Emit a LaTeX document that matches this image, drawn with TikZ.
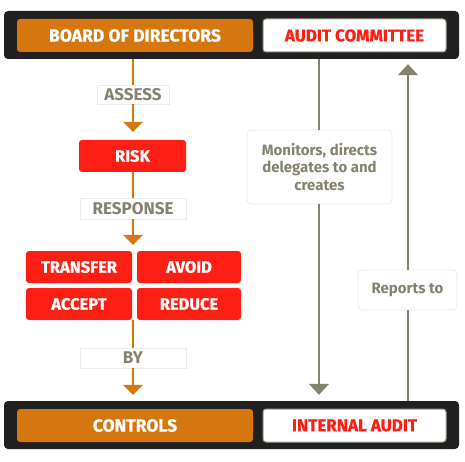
\documentclass[tikz,border=0pt]{standalone}
\usepackage{fontspec}
\setmainfont{Fira Sans}
\newfontfamily\heavyfont{Fira Sans}[UprightFont={* Bold}, FakeBold=0.7]
\usetikzlibrary{arrows.meta}
\definecolor{cOrange}{HTML}{D6760F}
\definecolor{cRed}{HTML}{FF1E14}
\definecolor{cGray}{HTML}{858370}
\definecolor{cBlack}{HTML}{221F1F}
\definecolor{cFaint}{HTML}{EAEAE6}
\tikzset{
  bar/.style={fill=cBlack, rounded corners=4pt, inner sep=0pt},
  obox/.style={fill=cOrange, rounded corners=3pt, text=white, font=\fontsize{17.5}{20}\selectfont\heavyfont, inner sep=0pt},
  wbox/.style={fill=white, draw=cGray!80, line width=1pt, rounded corners=3pt, text=cRed, font=\fontsize{17}{20}\selectfont\heavyfont, inner sep=0pt},
  rbox/.style={fill=cRed, rounded corners=3pt, text=white, font=\fontsize{16.5}{20}\selectfont\heavyfont, inner sep=0pt},
  lbl/.style={fill=white, draw=cFaint, line width=0.6pt, text=cGray, font=\fontsize{17}{20}\selectfont\bfseries, inner sep=0pt},
  note/.style={fill=white, draw=cFaint, line width=0.8pt, rounded corners=4pt, text=cGray, font=\fontsize{15}{17.5}\selectfont\bfseries, align=center, inner sep=0pt},
  oline/.style={draw=cOrange, line width=1.4pt},
  oarr/.style={oline, -{Triangle[width=20pt,length=10pt]}},
  gline/.style={draw=cGray, line width=1.4pt},
  garr/.style={gline, -{Triangle[width=20pt,length=11pt]}}
}
\begin{document}
\begin{tikzpicture}[x=1pt,y=-1pt]
\useasboundingbox[fill=white] (0,0) rectangle (465,462);
% bars
\node[bar, minimum width=455pt, minimum height=48pt] (topbar) at (231.5,35) {};
\node[bar, minimum width=455pt, minimum height=48pt] (botbar) at (231.5,425) {};
\node[obox, minimum width=236pt, minimum height=33pt] (board) at (135,35.5) {BOARD OF DIRECTORS};
\node[wbox, minimum width=183pt, minimum height=33pt] (audit) at (354.5,35.5) {AUDIT COMMITTEE};
\node[obox, minimum width=236pt, minimum height=33pt] (controls) at (135,425.5) {CONTROLS};
\node[wbox, minimum width=183pt, minimum height=33pt] (internal) at (354.5,425.5) {INTERNAL AUDIT};
% left column
\node[lbl, minimum width=72pt, minimum height=19pt] (assess) at (133,94.5) {ASSESS};
\node[rbox, minimum width=107pt, minimum height=32pt] (risk) at (132.5,156) {RISK};
\node[lbl, minimum width=106pt, minimum height=21pt] (response) at (133,208.5) {RESPONSE};
\node[rbox, minimum width=106pt, minimum height=32pt] (transfer) at (79,267) {TRANSFER};
\node[rbox, minimum width=104pt, minimum height=32pt] (avoid) at (189,267) {AVOID};
\node[rbox, minimum width=106pt, minimum height=32pt] (accept) at (79,304) {ACCEPT};
\node[rbox, minimum width=104pt, minimum height=32pt] (reduce) at (189,304) {REDUCE};
\node[lbl, minimum width=106pt, minimum height=20pt] (by) at (133,358) {BY};
% right notes
\node[note, minimum width=145pt, minimum height=74pt] (monitors) at (319.5,167) {Monitors, directs\\delegates to and\\creates};
\node[note, minimum width=99pt, minimum height=40pt] (reports) at (407.5,290) {Reports to};
\coordinate (ox) at (133,0);
\coordinate (dx) at (319,0);
\coordinate (ux) at (408,0);
% orange flow
\draw[oline] (ox |- topbar.south) -- (ox |- assess.north);
\draw[oarr, shorten >=8pt] (ox |- assess.south) -- (ox |- risk.north);
\draw[oline] (ox |- risk.south) -- (ox |- response.north);
\draw[oarr, shorten >=6pt] (ox |- response.south) -- (ox |- transfer.north);
\draw[oline] (ox |- accept.south) -- (ox |- by.north);
\draw[oarr, shorten >=6pt] (ox |- by.south) -- (ox |- botbar.north);
% gray flows
\draw[gline] (dx |- topbar.south) -- (dx |- monitors.north);
\draw[garr, shorten >=6pt] (dx |- monitors.south) -- (dx |- botbar.north);
\draw[gline] (ux |- botbar.north) -- (ux |- reports.south);
\draw[garr, shorten >=5pt] (ux |- reports.north) -- (ux |- topbar.south);
\end{tikzpicture}
\end{document}
